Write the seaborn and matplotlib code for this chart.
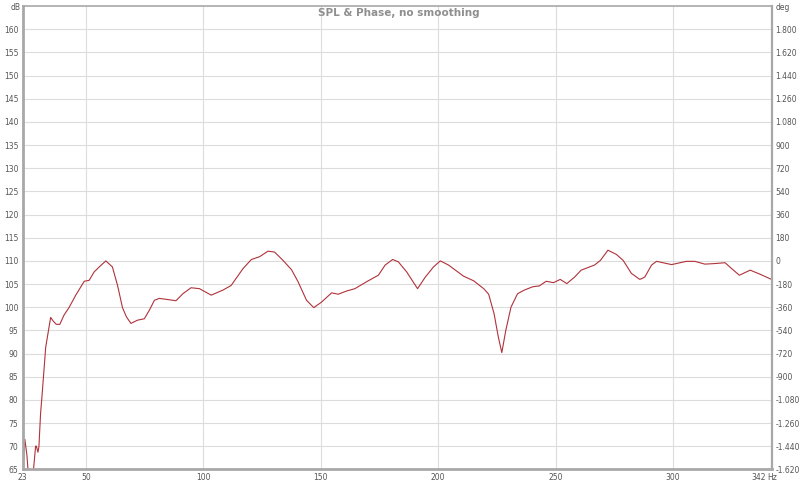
import numpy as np
import pandas as pd
import matplotlib
matplotlib.use('Agg')
import matplotlib.pyplot as plt
import seaborn as sns

# ── Data ─────────────────────────────────────────────────────────────────────
freq_hz = [23.0, 23.9, 24.8, 25.3, 25.6, 27.3, 27.6, 28.5, 28.8, 29.5, 29.9,
           30.6, 31.3, 32.8, 34.9, 36.0, 37.3, 38.8, 40.6, 42.7, 45.6, 49.2,
           51.3, 53.4, 55.6, 58.4, 61.2, 63.4, 65.5, 67.2, 69.1, 71.9, 74.8,
           76.9, 79.1, 81.2, 84.1, 88.3, 91.2, 94.7, 98.3, 103.3, 108.3, 111.8,
           116.8, 120.4, 123.9, 127.5, 130.3, 133.9, 137.5, 140.3, 143.9, 147.0,
           150.3, 154.6, 157.4, 161.0, 164.5, 169.5, 174.5, 177.4, 180.6, 183.0,
           186.6, 191.2, 194.5, 198.0, 200.9, 204.4, 210.8, 215.1, 219.4, 221.5,
           223.8, 225.6, 227.1, 228.8, 231.0, 233.8, 236.7, 240.2, 243.1, 246.0,
           249.1, 252.0, 254.8, 258.1, 260.9, 266.6, 269.1, 272.3, 275.9, 278.8,
           282.3, 285.9, 288.0, 290.9, 293.0, 299.4, 305.8, 309.3, 313.6, 317.2,
           322.2, 325.1, 328.3, 332.9, 337.2, 342.0]
spl_db = [63.0, 71.5, 68.0, 64.5, 62.0, 62.0, 65.0, 70.0, 70.0, 68.7, 69.9,
          77.0, 81.4, 91.4, 97.8, 97.0, 96.3, 96.3, 98.3, 99.9, 102.6, 105.6,
          105.8, 107.6, 108.7, 110.0, 108.7, 104.7, 99.9, 97.9, 96.5, 97.2, 97.5,
          99.3, 101.5, 101.9, 101.7, 101.4, 102.9, 104.2, 104.0, 102.6, 103.7, 104.7,
          108.3, 110.3, 110.9, 112.1, 111.9, 110.1, 108.1, 105.5, 101.5, 99.9,
          101.1, 103.1, 102.8, 103.5, 104.0, 105.5, 106.9, 109.1, 110.3, 109.8,
          107.6, 104.0, 106.5, 108.7, 110.0, 109.1, 106.7, 105.7, 104.0, 102.8,
          98.6, 93.6, 90.2, 95.0, 100.0, 102.9, 103.7, 104.4, 104.6, 105.6,
          105.3, 106.0, 105.1, 106.5, 108.0, 109.1, 110.1, 112.3, 111.4, 110.1,
          107.3, 106.0, 106.5, 109.1, 109.9, 109.2, 109.9, 109.9, 109.3, 109.4,
          109.6, 108.3, 106.9, 108.0, 107.1, 106.0]

x_ticks = [23, 50, 100, 150, 200, 250, 300, 342]
db_ticks = list(range(65, 161, 5))
deg_ticks = list(range(-1620, 1801, 180))

# ── Styling ──────────────────────────────────────────────────────────────────
sns.set_style('white')
plt.rcParams['font.family'] = ['DejaVu Sans']

LABEL_COLOR = '#555555'
GRID_COLOR  = '#dcdcdc'
SPINE_COLOR = '#a8a8a8'
LINE_COLOR  = '#b0323a'

fig = plt.figure(figsize=(8, 4.82), dpi=100)
ax = fig.add_axes([0.0284, 0.0263, 0.936, 0.961])

df = pd.DataFrame({'Hz': freq_hz, 'dB': spl_db})
sns.lineplot(data=df, x='Hz', y='dB', ax=ax, color=LINE_COLOR, linewidth=0.8)

ax.set_xlim(23, 342)
ax.set_ylim(65, 165)
ax.set_xticks(x_ticks)
ax.set_yticks(db_ticks)
# the last frequency label is drawn separately, left of the "Hz" unit
ax.set_xticklabels([str(t) for t in x_ticks[:-1]] + [''])
ax.set_xlabel('')
ax.set_ylabel('')
ax.tick_params(axis='both', length=0, labelsize=5.5, labelcolor=LABEL_COLOR)
ax.tick_params(axis='x', pad=2.5)
ax.tick_params(axis='y', pad=3)

ax.annotate(str(x_ticks[-1]), xy=(x_ticks[-1], 65), xycoords='data',
            xytext=(-4, -2.5), textcoords='offset points',
            ha='right', va='top', fontsize=5.5, color=LABEL_COLOR,
            annotation_clip=False)

ax.grid(True, color=GRID_COLOR, linewidth=0.8)
ax.set_axisbelow(True)
for side, lw in [('left', 2.0), ('bottom', 2.0), ('top', 1.2), ('right', 1.6)]:
    ax.spines[side].set_visible(True)
    ax.spines[side].set_color(SPINE_COLOR)
    ax.spines[side].set_linewidth(lw)

# right-hand phase axis, aligned to the dB axis (0 deg at 110 dB, 36 deg/dB)
ax2 = ax.twinx()
ax2.set_ylim((65 - 110) * 36, (165 - 110) * 36)
ax2.set_yticks(deg_ticks)
ax2.set_yticklabels([f'{t:,}'.replace(',', '.') for t in deg_ticks])
ax2.tick_params(axis='y', length=0, labelsize=5.5, labelcolor=LABEL_COLOR, pad=3)
for s in ax2.spines.values():
    s.set_visible(False)

# unit labels and title
fig.text(0.019, 0.993, 'dB', fontsize=5.5, color=LABEL_COLOR, ha='center', va='top')
fig.text(0.979, 0.993, 'deg', fontsize=5.5, color=LABEL_COLOR, ha='center', va='top')
fig.text(0.9595, 0.0095, 'Hz', fontsize=5.5, color=LABEL_COLOR, ha='left', va='center')
fig.text(0.499, 0.972, 'SPL & Phase, no smoothing', fontsize=7.5, fontweight='bold',
         color='#8f8f8f', ha='center', va='center')

fig.savefig('out.png', dpi=100)
